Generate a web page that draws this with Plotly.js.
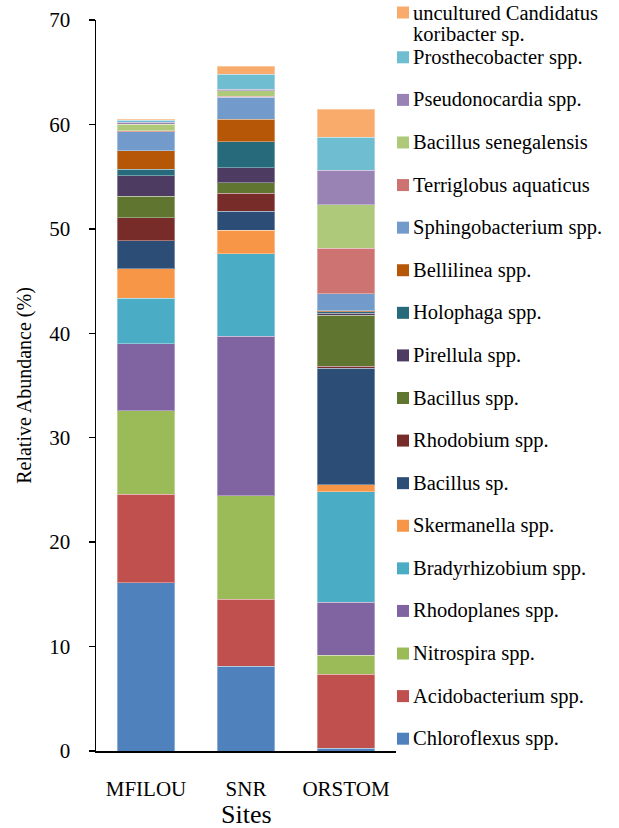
<!DOCTYPE html>
<html>
<head>
<meta charset="utf-8">
<script src="https://cdn.plot.ly/plotly-3.0.1.min.js"></script>
<style>
  html, body { margin: 0; padding: 0; background: #ffffff; }
  #chart { width: 619px; height: 828px; }
</style>
</head>
<body>
<div id="chart"></div>
<script>
// ---- Data ----
const sites = ['MFILOU', 'SNR', 'ORSTOM'];

// series, bottom of stack to top
const seriesNames = [
  'Chloroflexus spp.',
  'Acidobacterium spp.',
  'Nitrospira spp.',
  'Rhodoplanes spp.',
  'Bradyrhizobium spp.',
  'Skermanella spp.',
  'Bacillus sp.',
  'Rhodobium spp.',
  'Bacillus spp.',
  'Pirellula spp.',
  'Holophaga spp.',
  'Bellilinea spp.',
  'Sphingobacterium spp.',
  'Terriglobus aquaticus',
  'Bacillus senegalensis',
  'Pseudonocardia spp.',
  'Prosthecobacter spp.',
  'uncultured Candidatus koribacter sp.'
];

// relative abundance (%) per site, same order as seriesNames
const mfilouValues = [16.1, 8.5, 8.0, 6.4, 4.35, 2.85, 2.65, 2.2, 2.05, 2.0, 0.6, 1.8, 1.8, 0.1, 0.6, 0.2, 0.2, 0.12];
const snrValues    = [8.1, 6.45, 9.9, 15.25, 7.9, 2.25, 1.85, 1.7, 1.0, 1.43, 2.5, 2.15, 2.1, 0.1, 0.55, 0.15, 1.43, 0.77];
const orstomValues = [0.25, 7.1, 1.8, 5.1, 10.6, 0.65, 11.15, 0.2, 4.88, 0.2, 0.15, 0.1, 1.6, 4.37, 4.15, 3.29, 3.19, 2.69];

const seriesColors = [
  '#4F81BD', '#C0504D', '#9BBB59', '#8064A2', '#4BACC6', '#F79646',
  '#2C4D75', '#772C2A', '#5F7530', '#4D3B62', '#276A7C', '#B65708',
  '#729ACA', '#CD7371', '#AFC97A', '#9983B5', '#6FBDD1', '#F9AB6B'
];

const yTickVals = [0, 10, 20, 30, 40, 50, 60, 70];
const xTitle = 'Sites';
const yTitle = 'Relative Abundance (%)';

// legend label wrapping (as in the reference)
const legendLabels = seriesNames.map(n =>
  n === 'uncultured Candidatus koribacter sp.' ? ['uncultured Candidatus', 'koribacter sp.'] : [n]);

// ---- Layout geometry (pixels) ----
const W = 619, H = 828;
const M = { l: 96, r: 223, t: 20, b: 77 };
const plotW = W - M.l - M.r, plotH = H - M.t - M.b;
const px2x = px => (px - M.l) / plotW;
const py2y = py => (H - M.b - py) / plotH;

const FONT = '"Liberation Serif", "Times New Roman", Times, serif';

const traces = seriesNames.map((name, i) => ({
  type: 'bar',
  name: name,
  x: sites,
  y: [mfilouValues[i], snrValues[i], orstomValues[i]],
  marker: { color: seriesColors[i], line: { color: 'rgba(255,255,255,0.35)', width: 1 } },
  hovertemplate: '%{x}<br>' + name + ': %{y}%<extra></extra>'
}));

// manual legend (top entry = last series)
const shapes = [];
const annotations = [];
const n = seriesNames.length;
const firstStep = 57.3, step = (738.7 - firstStep) / (n - 2);
for (let k = 0; k < n; k++) {
  const i = n - 1 - k;
  const cy = k === 0 ? 12.5 : firstStep + (k - 1) * step;
  shapes.push({
    type: 'rect', xref: 'paper', yref: 'paper',
    x0: px2x(397), x1: px2x(409), y0: py2y(cy + 6), y1: py2y(cy - 6),
    fillcolor: seriesColors[i], line: { width: 0 }
  });
  legendLabels[i].forEach((line, j) => {
    annotations.push({
      xref: 'paper', yref: 'paper', x: px2x(411.5), y: py2y(cy + j * 21.5),
      xanchor: 'left', yanchor: 'middle', showarrow: false, borderpad: 0,
      text: line, font: { family: FONT, size: 20.5, color: '#000000' }
    });
  });
}

// x axis title
annotations.push({
  xref: 'paper', yref: 'paper', x: 0.5, y: py2y(814.5),
  xanchor: 'center', yanchor: 'middle', showarrow: false, borderpad: 0,
  text: xTitle, font: { family: FONT, size: 26, color: '#000000' }
});

const layout = {
  width: W, height: H,
  margin: M,
  barmode: 'stack',
  bargap: 0.427,
  showlegend: false,
  paper_bgcolor: '#ffffff',
  plot_bgcolor: '#ffffff',
  font: { family: FONT, color: '#000000' },
  xaxis: {
    type: 'category',
    range: [-0.5, 2.5],
    showline: true, linecolor: '#000000', linewidth: 1.5,
    ticks: '', showgrid: false, zeroline: false,
    tickfont: { family: FONT, size: 21, color: '#000000' },
    ticklabelstandoff: 18
  },
  yaxis: {
    range: [0, 70],
    tickvals: yTickVals,
    ticktext: yTickVals.map(String),
    showline: true, linecolor: '#000000', linewidth: 1.5,
    ticks: 'outside', ticklen: 6, tickwidth: 1.5, tickcolor: '#000000',
    showgrid: false, zeroline: false,
    tickfont: { family: FONT, size: 21, color: '#000000' },
    ticklabelstandoff: 14,
    title: { text: yTitle, font: { family: FONT, size: 20, color: '#000000' }, standoff: 12 }
  },
  shapes: shapes,
  annotations: annotations
};

Plotly.newPlot('chart', traces, layout, { displayModeBar: false, staticPlot: true });
</script>
</body>
</html>
